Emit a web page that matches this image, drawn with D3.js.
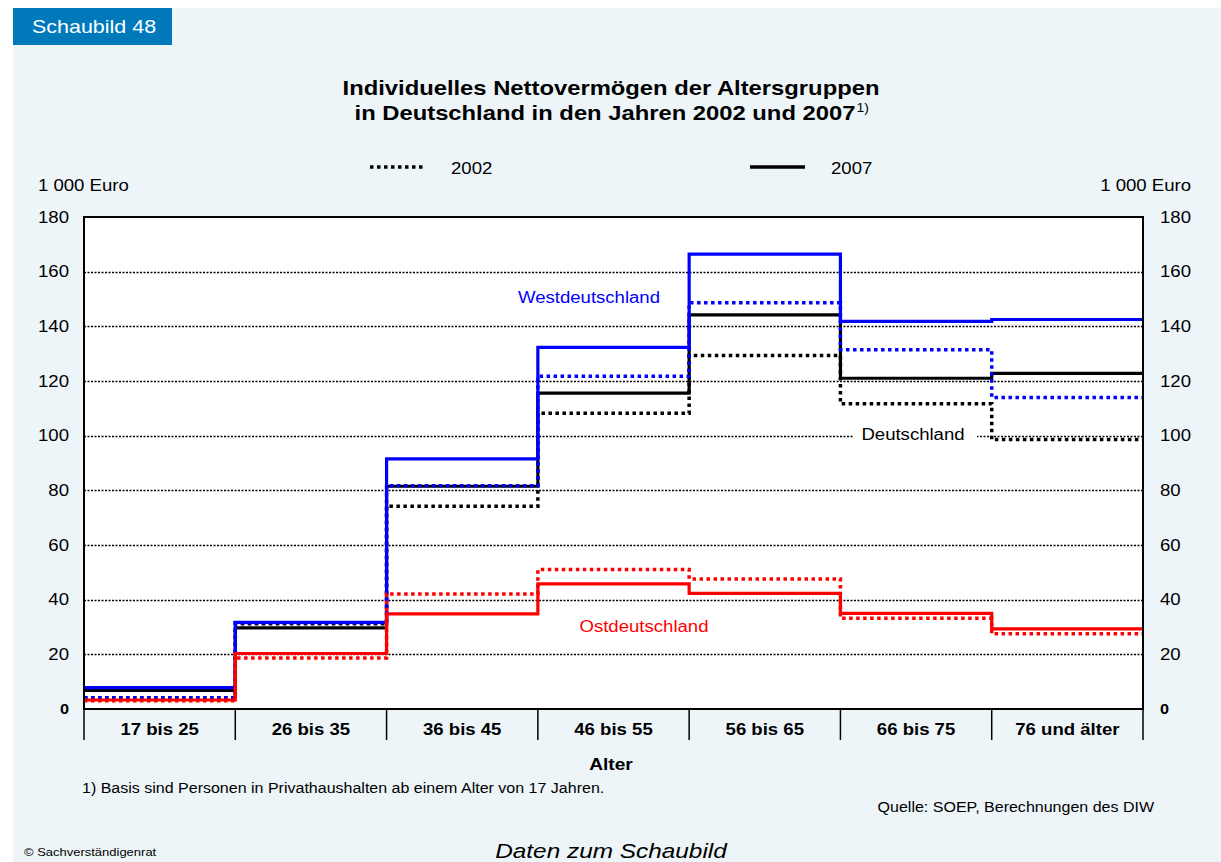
<!DOCTYPE html>
<html>
  <head>
    <meta charset="utf-8">
    <title>Schaubild 48</title>
    <style>
      body { margin: 0; background: #fff; }
      text { font-family: 'Liberation Sans', Arial, sans-serif; }
    </style>
  </head>
  <body>
    <script src="https://cdnjs.cloudflare.com/ajax/libs/d3/7.8.5/d3.min.js"></script>
    <script>
      // Altersgruppen
      let categories = ['17 bis 25', '26 bis 35', '36 bis 45', '46 bis 55', '56 bis 65', '66 bis 75', '76 und älter'];

      // 1 000 Euro
      let west2007 = [7.8, 31.7, 91.5, 132.3, 166.4, 141.8, 142.5],
          west2002 = [4.1, 31.6, 81.7, 121.7, 148.6, 131.4, 114.0],
          de2007   = [6.8, 29.7, 81.5, 115.6, 144.2, 121.0, 122.8],
          de2002   = [4.1, 31.2, 74.2, 108.2, 129.3, 111.7, 98.6],
          ost2007  = [3.3, 20.3, 34.8, 45.8, 42.3, 35.0, 29.3],
          ost2002  = [3.0, 18.7, 42.1, 51.0, 47.6, 33.2, 27.5];

      let yTicks = [0, 20, 40, 60, 80, 100, 120, 140, 160, 180];

      let W = 1221, H = 862;
      let plotLeft = 84, plotRight = 1143, plotTop = 217, plotBottom = 709;
      let stretchK = 1.16; // the original font is set a bit wider than Arial

      let svg = d3.select('body')
                  .append('svg')
                  .attr('width', W)
                  .attr('height', H);

      function stretch(sel) {
        sel.each(function() {
          let len = this.getComputedTextLength();
          d3.select(this)
            .attr('textLength', len * stretchK)
            .attr('lengthAdjust', 'spacingAndGlyphs');
        });
        return sel;
      }

      function label(px, py, txt, size, opts) {
        opts = opts || {};
        let t = svg.append('text')
                   .attr('x', px).attr('y', py)
                   .attr('font-size', size)
                   .attr('text-anchor', opts.anchor || 'start')
                   .attr('font-weight', opts.bold ? 'bold' : 'normal')
                   .attr('font-style', opts.italic ? 'italic' : 'normal')
                   .attr('fill', opts.fill || '#000')
                   .text(txt);
        return stretch(t);
      }

      // panel
      svg.append('rect')
         .attr('x', 13).attr('y', 8)
         .attr('width', W - 13).attr('height', H - 8)
         .attr('fill', '#edf5f9');

      svg.append('rect')
         .attr('x', 13).attr('y', 8)
         .attr('width', 159).attr('height', 37)
         .attr('fill', '#0079bb');
      label(32, 33, 'Schaubild 48', 18.5, { fill: '#fff' });

      // title
      label(611, 95, 'Individuelles Nettovermögen der Altersgruppen', 20.5, { anchor: 'middle', bold: true });
      let line2 = label(605, 120, 'in Deutschland in den Jahren 2002 und 2007', 20.5, { anchor: 'middle', bold: true });
      let bb = line2.node().getBBox();
      label(bb.x + bb.width + 1, 112, '1)', 12);

      // legend
      svg.append('line')
         .attr('x1', 370).attr('x2', 423).attr('y1', 167).attr('y2', 167)
         .attr('stroke', '#000').attr('stroke-width', 3.5)
         .attr('stroke-dasharray', '3.5,3.5');
      label(451, 174, '2002', 16);
      svg.append('line')
         .attr('x1', 750).attr('x2', 805).attr('y1', 167).attr('y2', 167)
         .attr('stroke', '#000').attr('stroke-width', 3.5);
      label(831, 174, '2007', 16);

      label(38, 191, '1 000 Euro', 16);
      label(1191, 191, '1 000 Euro', 16, { anchor: 'end' });

      // scales
      let x = d3.scaleBand()
                .domain(categories)
                .range([plotLeft, plotRight])
                .padding(0);

      let y = d3.scaleLinear()
                .domain([0, 180])
                .range([plotBottom, plotTop]);

      // plot area
      svg.append('rect')
         .attr('x', plotLeft).attr('y', plotTop)
         .attr('width', plotRight - plotLeft).attr('height', plotBottom - plotTop)
         .attr('fill', '#fff');

      // gridlines
      svg.selectAll('.grid')
         .data(yTicks.filter((d) => d > 0 && d < 180))
         .enter()
           .append('line')
           .attr('x1', plotLeft).attr('x2', plotRight)
           .attr('y1', (d) => Math.round(y(d)) + 0.5).attr('y2', (d) => Math.round(y(d)) + 0.5)
           .attr('stroke', '#000')
           .attr('stroke-width', 1.5)
           .attr('stroke-dasharray', '2,1.5');

      // y axes (labels only)
      let yLeft = d3.axisLeft(y).tickValues(yTicks).tickSize(0).tickPadding(15);
      let yRight = d3.axisRight(y).tickValues(yTicks).tickSize(0).tickPadding(17);
      [[yLeft, plotLeft], [yRight, plotRight]].forEach((a) => {
        svg.append('g').attr('transform', `translate(${a[1]},0)`).call(a[0])
           .call((g) => g.select('.domain').remove())
           .selectAll('text')
             .attr('fill', '#000')
             .attr('font-family', 'Liberation Sans, Arial, sans-serif')
             .attr('font-weight', (d) => d === 0 ? 'bold' : 'normal')
             .attr('font-size', (d) => d === 0 ? 14 : 16)
             .call(stretch);
      });

      // Deutschland label box
      svg.append('rect')
         .attr('x', 853).attr('y', 420)
         .attr('width', 124).attr('height', 28)
         .attr('fill', '#fff');

      // step lines
      let step = d3.line()
                   .x((d) => d[0])
                   .y((d) => y(d[1]))
                   .curve(d3.curveStepAfter);

      function pts(values) {
        let p = values.map((v, i) => [x(categories[i]), v]);
        p.push([x(categories[categories.length - 1]) + x.bandwidth(), values[values.length - 1]]);
        return p;
      }

      let series = [
        { values: de2007,   color: '#000', dotted: false },
        { values: de2002,   color: '#000', dotted: true },
        { values: west2007, color: '#0000ff', dotted: false },
        { values: west2002, color: '#0000ff', dotted: true },
        { values: ost2007,  color: '#ff0000', dotted: false },
        { values: ost2002,  color: '#ff0000', dotted: true }
      ];

      svg.selectAll('.series')
         .data(series)
         .enter()
           .append('path')
           .attr('d', (d) => step(pts(d.values)))
           .attr('fill', 'none')
           .attr('stroke', (d) => d.color)
           .attr('stroke-width', (d) => d.dotted ? 3.5 : 3.2)
           .attr('stroke-dasharray', (d) => d.dotted ? '3.5,3.5' : null);

      // frame
      svg.append('rect')
         .attr('x', plotLeft).attr('y', plotTop)
         .attr('width', plotRight - plotLeft).attr('height', plotBottom - plotTop)
         .attr('fill', 'none')
         .attr('stroke', '#000')
         .attr('stroke-width', 2);

      // category row
      let bounds = categories.map((c) => x(c)).concat([plotRight]);
      svg.selectAll('.div')
         .data(bounds)
         .enter()
           .append('line')
           .attr('x1', (d) => d).attr('x2', (d) => d)
           .attr('y1', plotBottom).attr('y2', 740)
           .attr('stroke', '#000')
           .attr('stroke-width', 1.5);

      categories.forEach((c) => {
        label(x(c) + x.bandwidth() / 2, 735, c, 16, { anchor: 'middle', bold: true });
      });

      // series labels
      label(589, 303, 'Westdeutschland', 16, { anchor: 'middle', fill: '#0000ff' });
      label(913, 440, 'Deutschland', 16, { anchor: 'middle' });
      label(644, 632, 'Ostdeutschland', 16, { anchor: 'middle', fill: '#ff0000' });

      label(611, 770, 'Alter', 16.5, { anchor: 'middle', bold: true });

      label(82, 793, '1) Basis sind Personen in Privathaushalten ab einem Alter von 17 Jahren.', 13.8);
      label(1154, 812, 'Quelle: SOEP, Berechnungen des DIW', 13.8, { anchor: 'end' });

      label(24, 856, '© Sachverständigenrat', 11.2);
      label(611, 858, 'Daten zum Schaubild', 21, { anchor: 'middle', italic: true });
    </script>
  </body>
</html>
